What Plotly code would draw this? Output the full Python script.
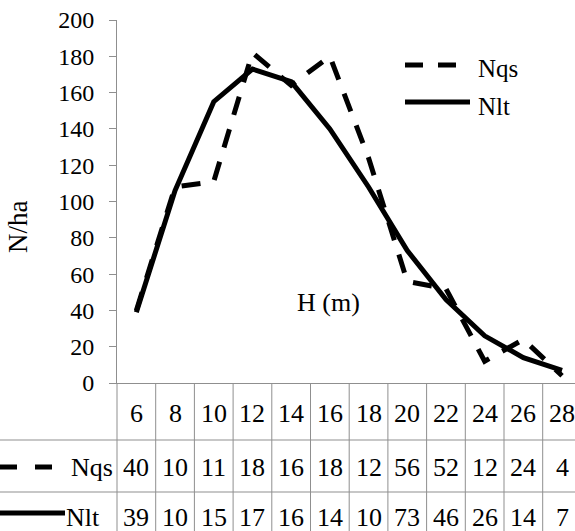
import plotly.graph_objects as go

# Tree height classes (m) and stem density (N/ha) per class
heights = [6, 8, 10, 12, 14, 16, 18, 20, 22, 24, 26, 28]
n_qs = [40, 108, 111, 182, 164, 180, 124, 56, 52, 12, 24, 4]   # observed
n_lt = [39, 106, 155, 173, 166, 140, 108, 73, 46, 26, 14, 7]   # theoretical
y_ticks = list(range(0, 201, 20))

W, H = 575, 531
ML, MT, MB = 117, 20, 148
PLOT_W = W - ML
PLOT_H = H - MT - MB
COL_W = 38.7
GRID = "#8f8f8f"
FONT = "Liberation Serif"


def px_x(px):
    return (px - ML) / PLOT_W


def px_y(py):
    return (H - MB - py) / PLOT_H


def cell_text(v):
    # narrow data-table cells only fit two characters
    return str(v)[:2]


def label(x, y, text, size, xref="paper", xanchor="center", angle=None):
    a = dict(x=x, y=y, xref=xref, yref="paper", text=text, showarrow=False,
             xanchor=xanchor, yanchor="middle",
             font=dict(family=FONT, size=size, color="black"))
    if angle is not None:
        a["textangle"] = angle
    return a


x_idx = list(range(len(heights)))
x_max = -0.5 + PLOT_W / COL_W

fig = go.Figure()
fig.add_trace(go.Scatter(
    x=x_idx, y=n_qs, name="Nqs", mode="lines", showlegend=False,
    line=dict(color="black", width=5, dash="19px,15px"),
))
fig.add_trace(go.Scatter(
    x=x_idx, y=n_lt, name="Nlt", mode="lines", showlegend=False,
    line=dict(color="black", width=5),
))

shapes = []
ann = []

# data table: vertical column separators below the x axis
for i in range(len(heights)):
    if i == 0:
        shapes.append(dict(type="line", xref="paper", yref="paper", x0=0, x1=0,
                           y0=0, y1=px_y(H + 5), line=dict(color=GRID, width=1)))
    else:
        shapes.append(dict(type="line", xref="x", yref="paper", x0=i - 0.5, x1=i - 0.5,
                           y0=0, y1=px_y(H + 5), line=dict(color=GRID, width=1)))
# horizontal row separators
for py in (440, 492):
    shapes.append(dict(type="line", xref="paper", yref="paper", x0=px_x(0), x1=1,
                       y0=px_y(py), y1=px_y(py), line=dict(color=GRID, width=1)))

# table cells
for i, h in enumerate(heights):
    ann.append(label(i, px_y(413), str(h), 26, xref="x"))
    ann.append(label(i, px_y(467), cell_text(n_qs[i]), 26, xref="x"))
    ann.append(label(i, px_y(517), cell_text(n_lt[i]), 26, xref="x"))

# table row keys
shapes.append(dict(type="line", xref="paper", yref="paper", x0=px_x(0), x1=px_x(53),
                   y0=px_y(467), y1=px_y(467),
                   line=dict(color="black", width=5, dash="17px,18px")))
shapes.append(dict(type="line", xref="paper", yref="paper", x0=px_x(0), x1=px_x(65),
                   y0=px_y(513), y1=px_y(513), line=dict(color="black", width=5)))
ann.append(label(px_x(69), px_y(467), "Nqs", 26, xanchor="left"))
ann.append(label(px_x(64), px_y(517), "Nlt", 26, xanchor="left"))

# legend in the upper right
shapes.append(dict(type="line", xref="paper", yref="paper", x0=px_x(405), x1=px_x(456),
                   y0=px_y(65), y1=px_y(65),
                   line=dict(color="black", width=5, dash="18px,15px")))
shapes.append(dict(type="line", xref="paper", yref="paper", x0=px_x(405), x1=px_x(470),
                   y0=px_y(102), y1=px_y(102), line=dict(color="black", width=5)))
ann.append(label(px_x(476), px_y(68), "Nqs", 25, xanchor="left"))
ann.append(label(px_x(476), px_y(107), "Nlt", 25, xanchor="left"))

# axis titles
ann.append(label(px_x(328), px_y(302), "H (m)", 26))
ann.append(label(px_x(18), px_y(227), "N/ha", 27, angle=-90))

fig.update_layout(
    width=W, height=H,
    margin=dict(l=ML, r=0, t=MT, b=MB, pad=0),
    paper_bgcolor="white", plot_bgcolor="white",
    shapes=shapes, annotations=ann,
    font=dict(family=FONT, color="black"),
)
fig.update_xaxes(
    range=[-0.5, x_max], showticklabels=False, showgrid=False, zeroline=False,
    showline=True, linecolor=GRID, linewidth=1, ticks="",
)
fig.update_yaxes(
    range=[0, 200], tickvals=y_ticks, showgrid=False, zeroline=False,
    showline=True, linecolor=GRID, linewidth=1,
    ticks="outside", ticklen=7, tickcolor=GRID, tickwidth=1,
    ticklabelstandoff=10, tickfont=dict(family=FONT, size=24, color="black"),
)

fig.write_html("out.html")
